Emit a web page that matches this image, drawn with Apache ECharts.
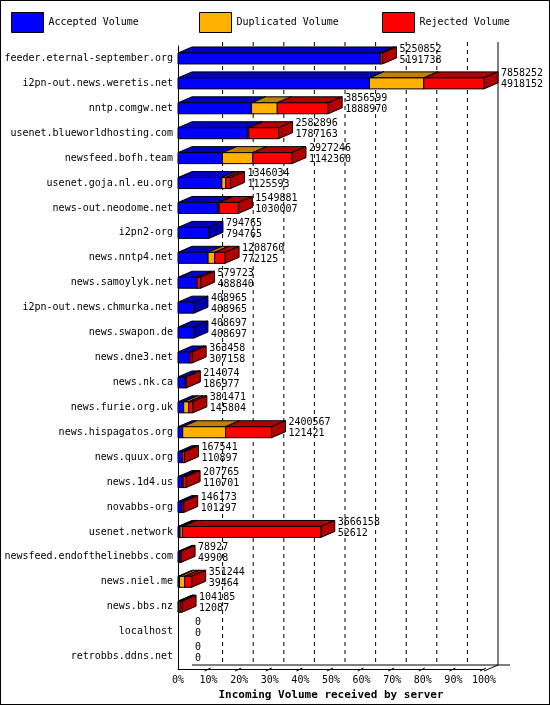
<!DOCTYPE html>
<html>
<head>
<meta charset="utf-8">
<script src="https://cdn.jsdelivr.net/npm/echarts@6/dist/echarts.min.js"></script>
<style>
  html, body { margin: 0; padding: 0; background: #fff; }
  #main { width: 550px; height: 705px; box-sizing: border-box; border: 1px solid #000; }
</style>
</head>
<body>
<div id="main"></div>
<script>
const servers = ['feeder.eternal-september.org', 'i2pn-out.news.weretis.net', 'nntp.comgw.net',
  'usenet.blueworldhosting.com', 'newsfeed.bofh.team', 'usenet.goja.nl.eu.org', 'news-out.neodome.net',
  'i2pn2-org', 'news.nntp4.net', 'news.samoylyk.net', 'i2pn-out.news.chmurka.net', 'news.swapon.de',
  'news.dne3.net', 'news.nk.ca', 'news.furie.org.uk', 'news.hispagatos.org', 'news.quux.org',
  'news.1d4.us', 'novabbs-org', 'usenet.network', 'newsfeed.endofthelinebbs.com', 'news.niel.me',
  'news.bbs.nz', 'localhost', 'retrobbs.ddns.net'];
const totalVolume = [5250852, 7858252, 3856599, 2582896, 2927246, 1346034, 1549881, 794765, 1208760,
  579723, 408965, 408697, 363458, 214074, 381471, 2400567, 167541, 207765, 146173, 3666158, 78927,
  351244, 104185, 0, 0];
const acceptedVolume = [5191738, 4918152, 1888970, 1787163, 1142360, 1125593, 1030007, 794765, 772125,
  488840, 408965, 408697, 307158, 186977, 145804, 121421, 110897, 110701, 101297, 52612, 49908,
  39464, 12087, 0, 0];
const duplicatedVolume = [0, 1394000, 660000, 30000, 778000, 100000, 25000, 0, 170000,
  0, 0, 0, 0, 0, 127000, 1100000, 0, 20000, 0, 60000, 0,
  130000, 40000, 0, 0];

const maxTotal = Math.max(...totalVolume);
const pct = v => v / maxTotal * 100;
const DX = 14, DY = -6, H = 11;
const FONT = '"DejaVu Sans Mono", monospace';

function segData(startArr, lenArr) {
  return servers.map((s, i) => [i, pct(startArr[i]), pct(startArr[i] + lenArr[i])]);
}
const zeros = servers.map(() => 0);
const dupStart = acceptedVolume;
const rejStart = acceptedVolume.map((a, i) => a + duplicatedVolume[i]);
const rejected = totalVolume.map((t, i) => t - rejStart[i]);

function boxRenderer(front, top, side) {
  return function (params, api) {
    const c = api.value(0), s = api.value(1), e = api.value(2);
    if (e - s <= 0) return null;
    const p0 = api.coord([s, c]), p1 = api.coord([e, c]);
    const x0 = p0[0], x1 = p1[0], y0 = p0[1] - H / 2;
    const st = { stroke: '#000', lineWidth: 1 };
    return {
      type: 'group',
      children: [
        { type: 'polygon', shape: { points: [[x0, y0], [x1, y0], [x1 + DX, y0 + DY], [x0 + DX, y0 + DY]] },
          style: Object.assign({ fill: top }, st) },
        { type: 'polygon', shape: { points: [[x1, y0], [x1 + DX, y0 + DY], [x1 + DX, y0 + DY + H], [x1, y0 + H]] },
          style: Object.assign({ fill: side }, st) },
        { type: 'rect', shape: { x: x0, y: y0, width: x1 - x0, height: H },
          style: Object.assign({ fill: front }, st) }
      ]
    };
  };
}

function labelRenderer(params, api) {
  const c = api.value(0), e = api.value(1);
  const p = api.coord([e, c]);
  return {
    type: 'text',
    x: p[0] + DX + 3, y: p[1] - 15,
    style: { text: api.value(2) + '\n' + api.value(3), font: '10px ' + FONT, fill: '#000', lineHeight: 11 }
  };
}

const chart = echarts.init(document.getElementById('main'));
const legendBase = { top: 6, itemWidth: 32, itemHeight: 20, icon: 'rect',
  textStyle: { fontFamily: FONT, fontSize: 10, color: '#000' }, selectedMode: false,
  itemStyle: { borderColor: '#000', borderWidth: 1 } };

chart.setOption({
  animation: false,
  backgroundColor: '#fff',
  legend: [
    Object.assign({ left: 5, data: ['Accepted Volume'] }, legendBase),
    Object.assign({ left: 193, data: ['Duplicated Volume'] }, legendBase),
    Object.assign({ left: 376, data: ['Rejected Volume'] }, legendBase)
  ],
  grid: { left: 177, right: 65, top: 45, bottom: 35, outerBoundsMode: 'none', containLabel: false },
  xAxis: {
    type: 'value', min: 0, max: 100, interval: 10,
    axisLine: { show: true, lineStyle: { color: '#000' } },
    axisTick: { show: false },
    splitLine: { show: false },
    axisLabel: { formatter: '{value}%', fontFamily: FONT, fontSize: 10, color: '#000', margin: 6 },
    name: 'Incoming Volume received by server', nameLocation: 'middle', nameGap: 20,
    nameTextStyle: { fontFamily: FONT, fontSize: 11, fontWeight: 'bold', color: '#000' }
  },
  yAxis: {
    type: 'category', data: servers, inverse: true,
    axisLine: { show: true, lineStyle: { color: '#000' } },
    axisTick: { show: false },
    axisLabel: { fontFamily: FONT, fontSize: 10, color: '#000', margin: 5 }
  },
  series: [
    { name: 'Accepted Volume', type: 'custom', color: '#0000ff', renderItem: boxRenderer('#0000ff', '#0000c0', '#0000a8'),
      data: segData(zeros, acceptedVolume), encode: { x: [1, 2], y: 0 } },
    { name: 'Duplicated Volume', type: 'custom', color: '#ffb000', renderItem: boxRenderer('#ffb000', '#c08000', '#c08000'),
      data: segData(dupStart, duplicatedVolume), encode: { x: [1, 2], y: 0 } },
    { name: 'Rejected Volume', type: 'custom', color: '#ff0000', renderItem: boxRenderer('#ff0000', '#b00000', '#b00000'),
      data: segData(rejStart, rejected), encode: { x: [1, 2], y: 0 } },
    { type: 'custom', renderItem: labelRenderer, z: 5,
      data: servers.map((s, i) => [i, pct(totalVolume[i]), totalVolume[i], acceptedVolume[i]]),
      encode: { x: 1, y: 0 } }
  ]
});

// back wall: dashed grid lines and floor, offset by the bar depth
const g = [];
const yTop = 45, yBot = 705 - 35;
for (let i = 1; i <= 10; i++) {
  const x = chart.convertToPixel({ xAxisIndex: 0 }, i * 10) + DX;
  g.push({ type: 'line', z: -1, shape: { x1: x, y1: yTop - 4, x2: x, y2: yBot + DY },
    style: { stroke: '#000', lineWidth: 1, lineDash: i === 10 ? null : [4, 4] } });
  const xf = chart.convertToPixel({ xAxisIndex: 0 }, i * 10);
  g.push({ type: 'line', shape: { x1: xf - 4, y1: yBot, x2: xf + 2, y2: yBot - 3 },
    style: { stroke: '#000', lineWidth: 1 } });
}
const xl = chart.convertToPixel({ xAxisIndex: 0 }, 0), xr = chart.convertToPixel({ xAxisIndex: 0 }, 100);
g.push({ type: 'line', z: -1, shape: { x1: xl + DX, y1: yBot + DY, x2: xr + DX + 12, y2: yBot + DY },
  style: { stroke: '#000', lineWidth: 1 } });
g.push({ type: 'line', z: -1, shape: { x1: xr, y1: yBot, x2: xr + DX, y2: yBot + DY },
  style: { stroke: '#000', lineWidth: 1 } });
chart.setOption({ graphic: g });
</script>
</body>
</html>
